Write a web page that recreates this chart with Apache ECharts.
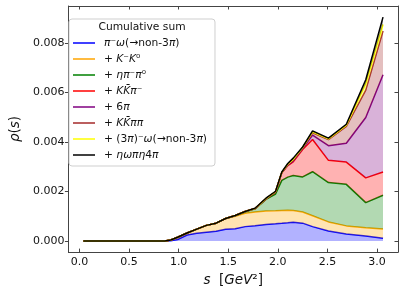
<!DOCTYPE html>
<html>
<head>
<meta charset="utf-8">
<script src="https://cdn.jsdelivr.net/npm/echarts@6/dist/echarts.min.js"></script>
<style>html,body{margin:0;padding:0;background:#fff}#c{width:404px;height:292px}</style>
</head>
<body>
<div id="c"></div>
<script>
// s values [GeV^2]
const S = [0.04, 0.45, 0.86, 0.92, 0.99, 1.085, 1.183, 1.28, 1.377, 1.474, 1.57, 1.67, 1.77, 1.88, 1.977, 2.04, 2.1, 2.155, 2.25, 2.35, 2.51, 2.69, 2.886, 3.06];
// cumulative sums rho(s)
const cumPiOmega  = [0,0,0,0.00001,0.00006,0.00024,0.00031,0.00035,0.00039,0.00047,0.00049,0.00058,0.00062,0.00067,0.00070,0.00072,0.00074,0.00076,0.00072,0.00058,0.00040,0.00028,0.00020,0.00011];
const cumKK       = [0,0,0,0.00004,0.00015,0.00032,0.00048,0.00063,0.00072,0.00091,0.00100,0.00112,0.00117,0.00121,0.00122,0.00123,0.00124,0.00123,0.00117,0.00102,0.00077,0.00061,0.00053,0.00048];
const cumEtaPiPi  = [0,0,0,0.00004,0.00015,0.00032,0.00048,0.00063,0.00072,0.00091,0.00102,0.00118,0.00130,0.00168,0.00190,0.00245,0.00258,0.00265,0.00259,0.00280,0.00236,0.00229,0.00155,0.00185];
const cumKKPi     = [0,0,0,0.00004,0.00015,0.00032,0.00048,0.00063,0.00072,0.00091,0.00103,0.00119,0.00131,0.00170,0.00199,0.00276,0.00305,0.00320,0.00370,0.00410,0.00326,0.00319,0.00255,0.00279];
const cum6Pi      = [0,0,0,0.00004,0.00015,0.00032,0.00048,0.00063,0.00072,0.00091,0.00103,0.00119,0.00131,0.00170,0.00199,0.00277,0.00306,0.00324,0.00374,0.00428,0.00385,0.00395,0.00499,0.00672];
const cumKKPiPi   = [0,0,0,0.00004,0.00015,0.00032,0.00048,0.00063,0.00072,0.00091,0.00103,0.00119,0.00131,0.00170,0.00199,0.00277,0.00308,0.00328,0.00377,0.00437,0.00410,0.00463,0.00610,0.00849];
const cum3PiOmega = [0,0,0,0.00004,0.00015,0.00032,0.00048,0.00063,0.00072,0.00091,0.00103,0.00119,0.00131,0.00171,0.00200,0.00278,0.00310,0.00330,0.00378,0.00441,0.00413,0.00468,0.00635,0.00875];
const cumEtaOmega = [0,0,0,0.00004,0.00015,0.00032,0.00048,0.00063,0.00072,0.00091,0.00103,0.00119,0.00132,0.00173,0.00201,0.00279,0.00313,0.00335,0.00380,0.00445,0.00416,0.00472,0.00652,0.00905];

const seriesNames = ['s1','s2','s3','s4','s5','s6','s7','s8'];
const legendLabels = [
  '{i|π}⁻{i|ω}(→non-3{i|π})',
  '+ {i|K}⁻{i|K}⁰',
  '+ {i|ηπ}⁻{i|π}⁰',
  '+ {i|KK̄π}⁻',
  '+ 6{i|π}',
  '+ {i|KK̄ππ}',
  '+ (3{i|π})⁻{i|ω}(→non-3{i|π})',
  '+ {i|ηωπη}4{i|π}'
];
const colors = ['#0000ff','#ffa500','#008000','#ff0000','#800080','#a52a2a','#ffff00','#000000'];
const cums = [cumPiOmega, cumKK, cumEtaPiPi, cumKKPi, cum6Pi, cumKKPiPi, cum3PiOmega, cumEtaOmega];

const FONT = 'DejaVu Sans';
const labelMap = {};
seriesNames.forEach((n,i)=>labelMap[n]=legendLabels[i]);

// data rows are [increment, s] so that the stacked dimension is the value (y) dimension
const series = cums.map((c, k) => {
  const prev = k === 0 ? null : cums[k-1];
  return {
    name: seriesNames[k],
    type: 'line',
    stack: 'cum',
    symbol: 'none',
    color: colors[k],
    encode: {x: 1, y: 0},
    lineStyle: {color: colors[k], width: 1.5},
    areaStyle: {color: colors[k], opacity: 0.3},
    data: S.map((s, j) => [+(c[j] - (prev ? prev[j] : 0)).toFixed(6), s]),
    z: 2 + k
  };
});

const axisColor = '#444';
const chart = echarts.init(document.getElementById('c'), null, {renderer: 'canvas'});
chart.setOption({
  animation: false,
  backgroundColor: '#fff',
  grid: {left: 57, right: 6, top: 6, bottom: 37},
  xAxis: [{
    type: 'value', min: -0.111, max: 3.211, splitNumber: 5,
    splitLine: {show: false},
    axisLine: {onZero: false, lineStyle: {color: axisColor, width: 1}},
    axisTick: {inside: true, length: 3.5, lineStyle: {color: axisColor}},
    axisLabel: {fontFamily: FONT, fontSize: 11, color: '#111', margin: 5, showMinLabel: false, showMaxLabel: false,
      formatter: v => v.toFixed(1)},
    name: '{i|s}  [{i|GeV}²]', nameLocation: 'middle', nameGap: 17,
    nameTextStyle: {fontFamily: FONT, fontSize: 13.5, color: '#111',
      rich: {i: {fontFamily: FONT, fontSize: 13.5, fontStyle: 'italic', color: '#111'}}}
  }, {
    type: 'value', position: 'top', min: -0.111, max: 3.211, splitNumber: 5,
    splitLine: {show: false},
    axisLine: {show: true, onZero: false, lineStyle: {color: axisColor, width: 1}},
    axisTick: {show: true, inside: true, length: 3.5, lineStyle: {color: axisColor}},
    axisLabel: {show: false}
  }],
  yAxis: [{
    type: 'value', min: -0.00045, max: 0.0095, splitNumber: 5,
    splitLine: {show: false},
    axisLine: {show: true, onZero: false, lineStyle: {color: axisColor, width: 1}},
    axisTick: {show: true, inside: false, length: 3.5, lineStyle: {color: axisColor}},
    axisLabel: {fontFamily: FONT, fontSize: 11, color: '#111', margin: 4, showMinLabel: false, showMaxLabel: false,
      formatter: v => v.toFixed(3)},
    name: '{i|ρ}({i|s})', nameLocation: 'middle', nameGap: 41,
    nameTextStyle: {fontFamily: FONT, fontSize: 13.5, color: '#111',
      rich: {i: {fontFamily: FONT, fontSize: 13.5, fontStyle: 'italic', color: '#111'}}}
  }, {
    type: 'value', position: 'right', min: -0.00045, max: 0.0095, splitNumber: 5,
    splitLine: {show: false},
    axisLine: {show: true, onZero: false, lineStyle: {color: axisColor, width: 1}},
    axisTick: {show: true, inside: true, length: 3.5, lineStyle: {color: axisColor}},
    axisLabel: {show: false}
  }],
  legend: {
    orient: 'vertical', left: 69, top: 19,
    padding: [17, 8, 4, 4],
    itemGap: 2, itemWidth: 22, itemHeight: 1.5, icon: 'rect',
    selectedMode: false,
    backgroundColor: 'rgba(255,255,255,0.85)',
    borderColor: '#cfcfcf', borderWidth: 1, borderRadius: 3,
    data: seriesNames,
    formatter: n => labelMap[n],
    textStyle: {fontFamily: FONT, fontSize: 10.7, color: '#111', lineHeight: 14, padding: [0,0,0,4],
      rich: {i: {fontFamily: FONT, fontSize: 10.7, fontStyle: 'italic', color: '#111', lineHeight: 14}}}
  },
  graphic: [{
    type: 'text', x: 142, y: 27, z: 100,
    style: {text: 'Cumulative sum', fontFamily: FONT, fontSize: 10.7, fill: '#111', textAlign: 'center', textVerticalAlign: 'middle'}
  }],
  series: series
});
</script>
</body>
</html>
